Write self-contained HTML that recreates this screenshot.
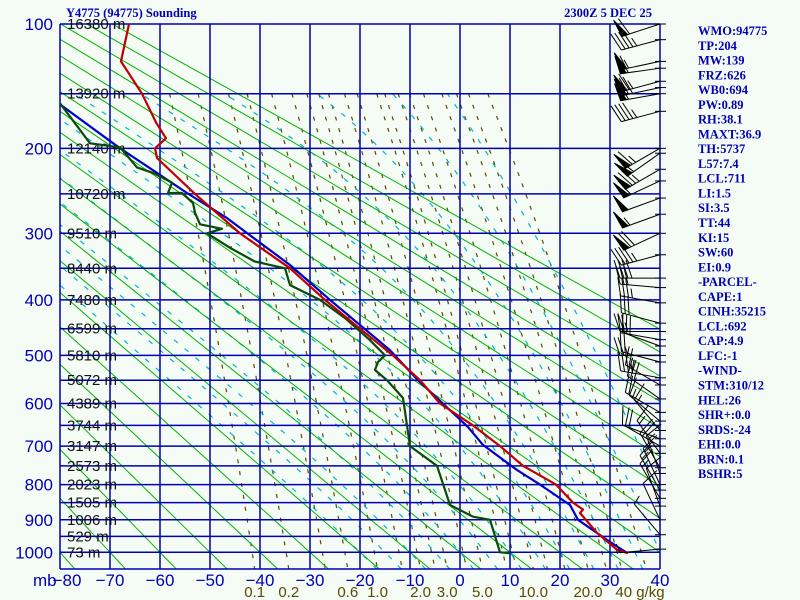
<!DOCTYPE html>
<html><head><meta charset="utf-8"><style>
html,body{margin:0;padding:0;background:#f5fbf5;}
svg{display:block;}
.side{font:bold 12.5px "Liberation Serif",serif;fill:#0000b4;}
</style></head><body>
<svg id="chart" width="800" height="600" xmlns="http://www.w3.org/2000/svg">
<rect width="800" height="600" fill="#f5fbf5"/>
<g id="mix"></g>
<g id="moist"></g>
<g id="dry"></g>
<g id="grid"></g>
<g id="labels"></g>
<g id="traces"></g>
<g id="winds"></g>
<text x="66" y="17" class="side">Y4775 (94775) Sounding</text>
<text x="652" y="17" class="side" text-anchor="end">2300Z  5 DEC 25</text>
<g id="side"></g>
</svg>
<script>
// ---- data ----
const tempP = [100,125,150,175,190,200,210,250,300,350,400,450,500,550,600,650,700,750,800,850,870,880,939,992,1003];
const tempT = [-66.2,-67.8,-63.6,-60.8,-58.8,-61,-60.6,-53,-44,-34,-27,-20,-13.4,-8,-4,2.6,8,12.6,19.2,22.6,24.6,24,27.4,31.4,33.6];
const dewP = [158,195,199,220,226,237,249,249,261,273,288,294,300,320,340,350,376,400,431,471,500,513,529,550,588,700,750,857,891,900,1000,1003];
const dewT = [-80,-74,-68,-64.6,-61.4,-57.6,-58.4,-55.6,-53.4,-53,-52,-47.6,-50.6,-46,-41,-35,-34,-28,-23,-18,-15,-16.4,-17,-14.6,-11.4,-10,-4.6,-2,2.6,6,8,10];
const parcelP = [159,200,226,249,280,345,400,490,550,588,654,697,761,800,857,900,961,1002];
const parcelT = [-80,-68,-60.6,-54.6,-46.6,-34,-26,-14,-8.4,-4.6,1.6,4.6,11.4,16,22,23.6,29.4,33.4];
const isoTicks = [-80,-70,-60,-50,-40,-30,-20,-10,0,10,20,30,40];
const pressTicks = [100,200,300,400,500,600,700,800,900,1000];
const heightP = [100,150,200,250,300,350,400,450,500,550,600,650,700,750,800,850,900,950,1000];
const heightLbl = ["16380","13920","12140","10720","9510","8440","7480","6599","5810","5072","4389","3744","3147","2573","2023","1505","1006","529","73"];
const mixW = [0.1,0.2,0.6,1.0,2.0,3.0,5.0,10.0,20.0,40];
const mixLbl = ["0.1","0.2","0.6","1.0","2.0","3.0","5.0","10.0","20.0","40 g/kg"];
const mixExtra = [0.4,1.5,2.5,4.0,7.0,8.0,12.0,15.0,25.0,30.0];
const windP = [100,110,125,130,140,145,150,165,200,205,222,235,255,275,300,330,365,380,405,440,455,470,482,500,513,545,560,590,620,640,662,682,700,718,755,770,800,815,838,860,900,945,990];
const windDir = [252,255,258,262,255,258,260,255,240,235,240,245,250,250,245,255,270,275,280,285,270,280,290,270,285,280,300,305,300,310,320,290,300,325,330,340,335,330,330,340,335,320,265];
const windSpd = [60,45,55,60,65,70,55,45,65,60,75,60,50,55,70,45,40,30,35,30,25,20,30,25,20,35,25,30,20,15,15,10,20,15,20,15,15,15,15,10,10,5,5];
const sideLines = ["WMO:94775","TP:204","MW:139","FRZ:626","WB0:694","PW:0.89","RH:38.1","MAXT:36.9","TH:5737","L57:7.4","LCL:711","LI:1.5","SI:3.5","TT:44","KI:15","SW:60","EI:0.9","-PARCEL-","CAPE:1","CINH:35215","LCL:692","CAP:4.9","LFC:-1","-WIND-","STM:310/12","HEL:26","SHR+:0.0","SRDS:-24","EHI:0.0","BRN:0.1","BSHR:5"];

// ---- axes ----
const K=0.2857, X0=60, XR=660, YT=24, YB=569, PY=152.3;
function xT(t){return X0+(t+80)*5;}
function yP(p){return YT+PY*(Math.pow(p,K)-Math.pow(100,K));}
const NS="http://www.w3.org/2000/svg";
function el(tag,attrs,parent,txt){const e=document.createElementNS(NS,tag);for(const k in attrs)e.setAttribute(k,attrs[k]);if(txt!==undefined)e.textContent=txt;parent.appendChild(e);return e;}
const PBOT=Math.pow((YB-YT)/PY+Math.pow(100,K),1/K);
function clipLine(pts){return pts.filter(q=>q[0]>=X0-0.5&&q[0]<=XR+0.5&&q[1]>=YT-0.5&&q[1]<=YB+0.5);}
function pathOf(pts){return pts.map((q,i)=>(i?'L':'M')+q[0].toFixed(1)+' '+q[1].toFixed(1)).join(' ');}

const defs=el('defs',{},document.getElementById('chart'));
const cp=el('clipPath',{id:'plotclip'},defs);
el('rect',{x:X0,y:YT,width:XR-X0,height:YB-YT},cp);

// dry adiabats
const dry=document.getElementById('dry');dry.setAttribute('clip-path','url(#plotclip)');
for(let th=-80;th<=120;th+=10){
  const TK=th+273.15;
  const pts=[];for(let p=90;p<=1100;p+=20){pts.push([xT(TK*Math.pow(p/1000,K)-273.15),yP(p)]);}
  const e=el('path',{d:pathOf(pts),stroke:'#00b400','stroke-width':1,fill:'none'},dry);
  
  
}
// mixing ratio
const mix=document.getElementById('mix');mix.setAttribute('clip-path','url(#plotclip)');
function tdFromW(w,p){const e=w*p/(622+w);const l=Math.log(e/6.112);return 243.5*l/(17.67-l);}
function mixLine(w){
  const pts=[];for(let p=150;p<=PBOT;p+=10){pts.push([xT(tdFromW(w,p)),yP(p)]);}
  pts.push([xT(tdFromW(w,PBOT)),YB]);
  const e=el('path',{d:pathOf(pts),stroke:'#5a4a00','stroke-width':1.2,fill:'none','stroke-dasharray':'4,8'},mix);
  
  
}
const labs=document.getElementById('labels');
mixExtra.forEach(w=>mixLine(w));
mixW.forEach((w,i)=>{
  mixLine(w);
  const xl=Math.min(xT(tdFromW(w,PBOT)),640);
  const t=el('text',{x:xl,y:597,'text-anchor':'middle','font-family':'Liberation Sans, sans-serif','font-size':15,fill:'#5a4a00'},labs,mixLbl[i]);
  
  
});
// moist adiabats
const moist=document.getElementById('moist');moist.setAttribute('clip-path','url(#plotclip)');
function es(tc){return 6.112*Math.exp(17.67*tc/(tc+243.5));}
function dTdp(T,p){const tc=T-273.15;const e=es(tc);const rs=0.622*e/(p-e);const Lv=2.5e6,Rd=287,Cp=1005;
  return (1/p)*(Rd*T+Lv*rs)/(Cp+Lv*Lv*rs*0.622/(Rd*T*T));}
for(let tw=-20;tw<=45;tw+=5){
  let T=tw+273.15,p=1000;const up=[[xT(tw),yP(1000)]];
  while(p>150){const dp=-5;T+=dTdp(T,p)*dp;p+=dp;up.push([xT(T-273.15),yP(p)]);}
  T=tw+273.15;p=1000;const dn=[];
  while(p<PBOT){const dp=5;T+=dTdp(T,p)*dp;p+=dp;dn.push([xT(T-273.15),yP(p)]);}
  const pts=dn.reverse().concat(up);
  const e=el('path',{d:pathOf(pts),stroke:'#00b4d0','stroke-width':1.2,fill:'none','stroke-dasharray':'5,9'},moist);
  
  
}
// grid
const grid=document.getElementById('grid');
const GC='#0000b4';
isoTicks.forEach(t=>{
  const e=el('line',{x1:xT(t),x2:xT(t),y1:YT,y2:YB,stroke:GC,'stroke-width':1.5},grid);
  
  
  const lt=el('text',{x:xT(t)+(t===-80?7:0),y:586,'text-anchor':'middle','font-family':'Liberation Sans, sans-serif','font-size':17,fill:GC},labs,(t<0?'\u2212':'')+Math.abs(t));
  
  
});
el('text',{x:33,y:586,'font-family':'Liberation Sans, sans-serif','font-size':17,fill:GC},labs,'mb');
heightP.forEach((p,i)=>{
  const e=el('line',{x1:X0,x2:XR,y1:yP(p),y2:yP(p),stroke:GC,'stroke-width':1.5},grid);
  
  
  const h=el('text',{x:67,y:yP(p)+5,'font-family':'Liberation Sans, sans-serif','font-size':15,fill:'#111'},labs,heightLbl[i]+' m');
  
  
});
el('line',{x1:X0,x2:XR,y1:YB,y2:YB,stroke:GC,'stroke-width':1.5},grid);
pressTicks.forEach(p=>{
  const t=el('text',{x:53,y:yP(p)+6,'text-anchor':'end','font-family':'Liberation Sans, sans-serif','font-size':17,fill:GC},labs,String(p));
  
  
});
// traces
const tr=document.getElementById('traces');
function trace(P,T,col,name){const pts=P.map((p,i)=>[xT(T[i]),yP(p)]);
  const e=el('path',{d:pathOf(pts),stroke:col,'stroke-width':2.2,fill:'none','stroke-linejoin':'round'},tr);
  
  }
trace(parcelP,parcelT,'#0000c8','parcel-trace');
trace(dewP,dewT,'#0a4a0a','dewpoint-trace');
trace(tempP,tempT,'#c00000','temperature-trace');
// winds
const wg=document.getElementById('winds');
windP.forEach((p,i)=>{
  const y=yP(p);const d=windDir[i]*Math.PI/180;const sx=Math.sin(d),sy=-Math.cos(d);const L=40;
  const g=el('g',{stroke:'#000','stroke-width':1,fill:'#000'},wg);
  
  
  el('line',{x1:655,x2:666,y1:y,y2:y},g);
  el('line',{x1:XR,y1:y,x2:XR+sx*L,y2:y+sy*L},g);
  const px=-sy,py=sx;let s=windSpd[i];let pos=L;
  while(s>=50){const bx=XR+sx*pos,by=y+sy*pos;
    el('polygon',{points:`${bx},${by} ${bx+px*18+sx*3},${by+py*18+sy*3} ${bx-sx*6},${by-sy*6}`},g);pos-=8;s-=50;}
  while(s>=10){const bx=XR+sx*pos,by=y+sy*pos;el('line',{x1:bx,y1:by,x2:bx+px*18+sx*6,y2:by+py*18+sy*6},g);pos-=4;s-=10;}
  if(s>=5){const bx=XR+sx*pos,by=y+sy*pos;el('line',{x1:bx,y1:by,x2:bx+px*9+sx*3,y2:by+py*9+sy*3},g);}
});
// side panel
const side=document.getElementById('side');
sideLines.forEach((s,i)=>{
  const t=el('text',{x:698,y:35+i*14.77,class:'side'},side,s);
  
  
});
</script>
</body></html>
